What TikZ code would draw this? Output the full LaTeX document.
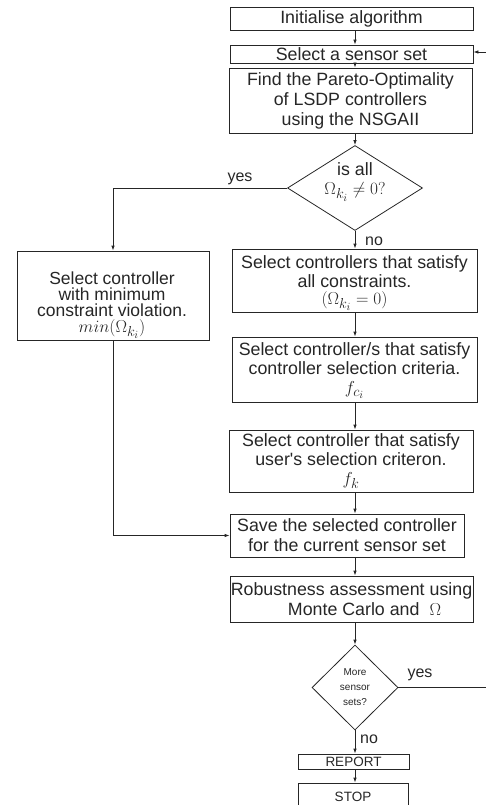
\documentclass[tikz,border=0pt]{standalone}
\usepackage{fontspec}
\setmainfont{Liberation Sans}
\DeclareMathSizes{17.8}{17.8}{15}{11}
\DeclareMathSizes{17.5}{17.5}{15}{11}
\usetikzlibrary{shapes.geometric,arrows.meta}
\begin{document}
\begin{tikzpicture}[x=1pt,y=1pt,
  every node/.style={text=black!85},
  box/.style={draw=black!85, line width=0.8pt, rectangle, inner sep=0pt, align=center, font=\fontsize{17.8}{20}\selectfont},
  dia/.style={draw=black!85, line width=0.8pt, diamond, inner sep=0pt},
  txt/.style={inner sep=0pt, align=center, font=\fontsize{17.8}{19}\selectfont},
  arr/.style={draw=black!85, line width=0.8pt, -{Latex[length=5pt,width=3.5pt]}},
  con/.style={draw=black!85, line width=0.8pt},
  lbl/.style={font=\fontsize{16}{18}\selectfont, inner sep=0pt}
]
\useasboundingbox (0,0) rectangle (486,-805);
\clip (0,0) rectangle (486,-805);

\node[box, minimum width=243pt, minimum height=23pt] (b1) at (351.5,-18.5) {Initialise algorithm};
\node[box, minimum width=243pt, minimum height=18pt] (b2) at (351.5,-54) {Select a sensor set};
\node[box, minimum width=243pt, minimum height=65pt] (b3) at (350.5,-100.5) {Find the Pareto-Optimality\\of LSDP controllers\\using the NSGAII};

\node[dia, minimum width=135pt, minimum height=85pt] (d1) at (355,-188) {};
\node[txt] (d1t) at (355,-182) {is all\\$\Omega_{k_i}\neq 0?$};

\node[box, minimum width=192pt, minimum height=89pt] (lb) at (113,-295.5) {};
\node[txt, font=\fontsize{17.5}{16}\selectfont, anchor=south] (lbt) at (112,-339) {Select controller\\with minimum\\constraint violation.\\$min(\Omega_{k_i})$};

\node[box, minimum width=245pt, minimum height=63pt] (b4) at (354.5,-280.5) {};
\node[txt, anchor=south] (b4t) at (354.5,-311) {Select controllers that satisfy\\all constraints.\\[-2pt]$(\Omega_{k_i}=0)$};
\node[box, minimum width=245pt, minimum height=65pt] (b5) at (354.5,-369.5) {};
\node[txt, anchor=south] (b5t) at (354.5,-398.5) {Select controller/s that satisfy\\controller selection criteria.\\$f_{c_i}$};
\node[box, minimum width=244pt, minimum height=62pt] (b6) at (351,-461) {};
\node[txt, anchor=south] (b6t) at (351,-489) {Select controller that satisfy\\user\textquotesingle s selection criteron.\\$f_k$};
\node[box, minimum width=234pt, minimum height=43pt] (b7) at (347,-535.5) {Save the selected controller\\for the current sensor set};
\node[box, minimum width=243pt, minimum height=46pt] (b8) at (351.5,-599) {Robustness assessment using\\\hspace*{26pt}Monte Carlo and\hspace{10pt}$\Omega$};

\node[dia, minimum width=86pt, minimum height=85pt] (d2) at (355,-687.5) {};
\node[txt, font=\fontsize{10}{15}\selectfont] (d2t) at (355,-687) {More\\sensor\\sets?};

\node[box, font=\fontsize{13.5}{15}\selectfont, minimum width=111pt, minimum height=15pt] (rep) at (353.5,-761.5) {REPORT};
\node[box, font=\fontsize{13.5}{15}\selectfont, minimum width=110pt, minimum height=28pt] (stop) at (353,-797) {STOP};

\coordinate (loopR) at (486,-687.5);
\coordinate (loopT) at (486,-52);

\draw[arr] (b1.south -| d1) -- (b2.north -| d1);
\draw[arr] (b2.south -| d1) -- (b3.north -| d1);
\draw[arr] (b3.south -| d1) -- (d1.north);
\draw[arr] (d1.west) -| (lb.north);
\draw[arr] (d1.south) -- (b4.north -| d1);
\draw[arr] (b4.south -| d1) -- (b5.north -| d1);
\draw[arr] (b5.south -| d1) -- (b6.north -| d1);
\draw[arr] (b6.south -| d1) -- (b7.north -| d1);
\draw[arr] (lb.south) |- (b7.west);
\draw[arr] (b7.south -| d1) -- (b8.north -| d1);
\draw[arr] (b8.south -| d1) -- (d2.north);
\draw[arr] (d2.south) -- (rep.north -| d2);
\draw[arr] (rep.south -| d2) -- (stop.north -| d2);
\draw[con] (d2.east) -- (loopR);
\draw[arr] (loopT) -- (b2.east |- loopT);

\node[lbl] (yes1) at (240,-179) {yes};
\node[lbl] (no1) at (374,-241) {no};
\node[lbl] (yes2) at (420,-675) {yes};
\node[lbl] (no2) at (369,-739) {no};
\end{tikzpicture}
\end{document}
